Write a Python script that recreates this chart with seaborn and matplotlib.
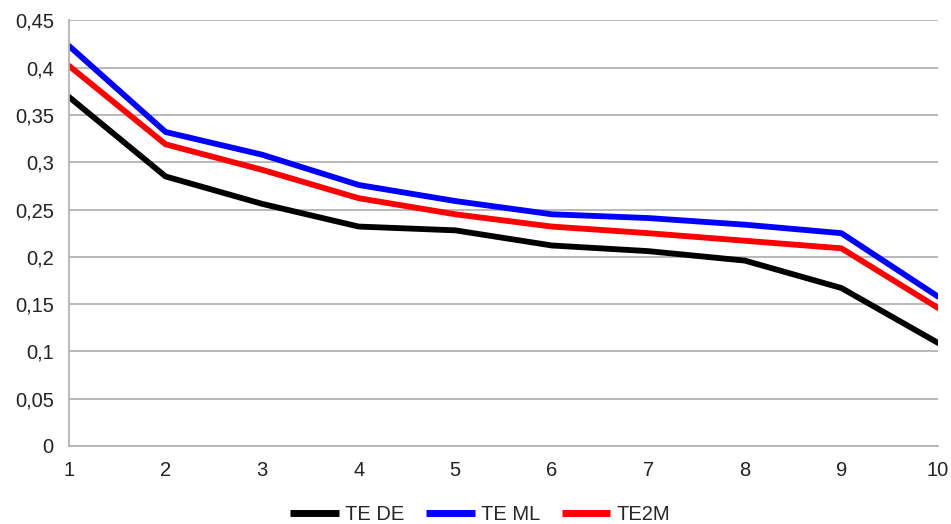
import matplotlib
matplotlib.use("Agg")
import matplotlib.pyplot as plt
import pandas as pd
import seaborn as sns

x_vals = [1, 2, 3, 4, 5, 6, 7, 8, 9, 10]
te_de = [0.369, 0.285, 0.256, 0.232, 0.228, 0.212, 0.206, 0.196, 0.167, 0.109]
te_ml = [0.423, 0.332, 0.308, 0.276, 0.259, 0.245, 0.241, 0.234, 0.225, 0.158]
te2m = [0.402, 0.319, 0.292, 0.262, 0.245, 0.232, 0.225, 0.217, 0.209, 0.146]
series_names = ["TE DE", "TE ML", "TE2M"]
series_colors = ["#000000", "#0000ff", "#ff0000"]
y_ticks = [0, 0.05, 0.1, 0.15, 0.2, 0.25, 0.3, 0.35, 0.4, 0.45]
y_tick_labels = ["0", "0,05", "0,1", "0,15", "0,2", "0,25", "0,3", "0,35", "0,4", "0,45"]

df = pd.concat([
    pd.DataFrame({"x": x_vals, "value": vals, "series": name})
    for name, vals in zip(series_names, [te_de, te_ml, te2m])
])

sns.set_style("white")
plt.rcParams['font.family'] = ['Liberation Sans', 'DejaVu Sans']
plt.rcParams['font.size'] = 14.5

fig = plt.figure(figsize=(9.51, 5.24), dpi=100)
ax = fig.add_axes([0.0726, 0.149, 0.9137, 0.812])

sns.lineplot(ax=ax, data=df, x="x", y="value", hue="series",
             palette=dict(zip(series_names, series_colors)), linewidth=4.2, legend=False)

ax.set_xlim(1, 10)
ax.set_ylim(0, 0.45)
ax.set_xticks(x_vals)
ax.set_yticks(y_ticks)
ax.set_yticklabels(y_tick_labels)
ax.grid(axis="y", color="#b3b3b3", linewidth=1.3)
ax.set_axisbelow(True)
for side in ["top", "right"]:
    ax.spines[side].set_visible(False)
for side in ["left", "bottom"]:
    ax.spines[side].set_color("#b3b3b3")
    ax.spines[side].set_linewidth(1.3)
ax.tick_params(direction="out", length=7, width=1.3, color="#b3b3b3",
               labelcolor="#222222", labelsize=14.5, pad=4)
ax.set_xlabel(None)
ax.set_ylabel(None)

handles = [plt.Line2D([], [], color=c, linewidth=5, solid_capstyle="butt") for c in series_colors]
fig.legend(handles, series_names, loc="center", bbox_to_anchor=(0.505, 0.018),
           ncol=3, frameon=False, handlelength=2.4, handletextpad=0.3,
           columnspacing=1.1, fontsize=14.5)

fig.savefig("out.png", dpi=100)
